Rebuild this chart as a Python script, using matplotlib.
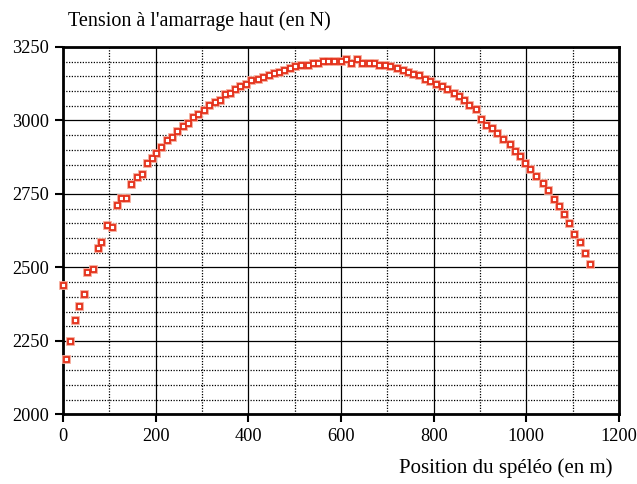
import matplotlib
matplotlib.use('Agg')
import matplotlib.pyplot as plt
from matplotlib.ticker import MultipleLocator

# Position du spéléo (m) et tension à l'amarrage haut (N)
position = [0, 7, 15, 26, 34, 45, 52, 64, 75, 83, 95, 106, 117, 125, 137, 147,
            159, 170, 182, 193, 201, 212, 224, 235, 247, 258, 269, 281, 292,
            304, 315, 327, 338, 350, 360, 372, 383, 395, 406, 421, 432, 444,
            455, 467, 478, 489, 501, 513, 528, 540, 550, 562, 573, 585, 600,
            611, 622, 634, 645, 660, 672, 683, 695, 706, 721, 733, 745, 756,
            768, 782, 793, 805, 817, 828, 843, 854, 865, 877, 892, 903, 914,
            926, 937, 949, 964, 975, 986, 998, 1009, 1021, 1036, 1047, 1059,
            1070, 1082, 1093, 1104, 1116, 1127, 1138]
tension = [2441, 2190, 2250, 2321, 2370, 2411, 2484, 2496, 2567, 2586, 2645,
           2639, 2711, 2735, 2735, 2783, 2807, 2819, 2854, 2872, 2890, 2909,
           2933, 2945, 2963, 2980, 2993, 3011, 3022, 3035, 3053, 3064, 3071,
           3089, 3095, 3106, 3118, 3124, 3137, 3142, 3148, 3155, 3161, 3166,
           3172, 3177, 3184, 3190, 3190, 3196, 3196, 3202, 3202, 3202, 3202,
           3208, 3196, 3208, 3196, 3196, 3196, 3190, 3190, 3184, 3177, 3172,
           3166, 3159, 3154, 3141, 3135, 3124, 3117, 3106, 3095, 3082, 3070,
           3052, 3040, 3004, 2986, 2973, 2956, 2938, 2920, 2896, 2878, 2854,
           2836, 2812, 2788, 2765, 2734, 2710, 2681, 2651, 2615, 2586, 2549,
           2513]

plt.rcParams['font.family'] = ['Liberation Serif', 'DejaVu Serif']

fig = plt.figure(figsize=(6.37, 4.84), dpi=100)
ax = fig.add_axes([0.0989, 0.1436, 0.8728, 0.7594])

# halo + carré creux rouge
ax.plot(position, tension, ls='none', marker='s', ms=4.6, mfc='none',
        mec='#f6a897', mew=2.0, zorder=3, clip_on=False)
ax.plot(position, tension, ls='none', marker='s', ms=3.6, mfc='white',
        mec='#e4301a', mew=1.3, zorder=4, clip_on=False)

ax.set_xlim(0, 1200)
ax.set_ylim(2000, 3250)
ax.xaxis.set_major_locator(MultipleLocator(200))
ax.xaxis.set_minor_locator(MultipleLocator(100))
ax.yaxis.set_major_locator(MultipleLocator(250))
ax.yaxis.set_minor_locator(MultipleLocator(50))

ax.grid(which='major', color='black', lw=0.9, ls='-')
ax.grid(which='minor', color='black', lw=0.9, ls=(0, (1.0, 1.2)))
ax.set_axisbelow(True)

for sp in ax.spines.values():
    sp.set_linewidth(2)
ax.tick_params(which='major', direction='out', length=6, width=1.5,
               labelsize=13.2, colors='black', pad=4)
ax.tick_params(which='minor', length=0)

fig.text(0.107, 0.957, "Tension à l'amarrage haut (en N)", fontsize=14.5,
         ha='left', va='center')
fig.text(0.962, 0.012, 'Position du spéléo (en m)', fontsize=15,
         ha='right', va='bottom')

fig.savefig('out.png', dpi=100)
